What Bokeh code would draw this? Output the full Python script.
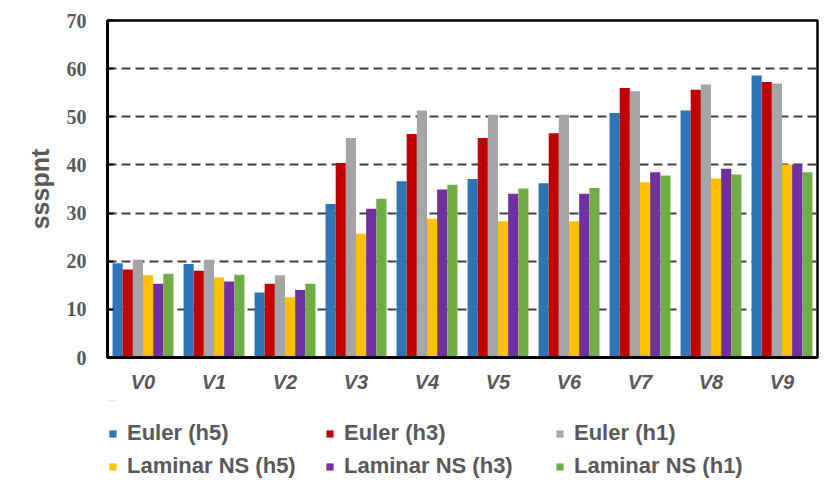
from bokeh.plotting import figure
from bokeh.models import ColumnDataSource, FactorRange, Range1d, FixedTicker, Legend, LegendItem
from bokeh.layouts import column
from bokeh.transform import dodge
from bokeh.embed import file_html
from bokeh.resources import INLINE

categories = ["V0", "V1", "V2", "V3", "V4", "V5", "V6", "V7", "V8", "V9"]
series_names = ["Euler (h5)", "Euler (h3)", "Euler (h1)",
                "Laminar NS (h5)", "Laminar NS (h3)", "Laminar NS (h1)"]
euler_h5 = [19.6, 19.4, 13.5, 31.9, 36.6, 37.1, 36.2, 50.8, 51.3, 58.6]
euler_h3 = [18.3, 18.0, 15.3, 40.4, 46.4, 45.6, 46.6, 56.0, 55.6, 57.2]
euler_h1 = [20.3, 20.3, 17.1, 45.6, 51.3, 50.4, 50.4, 55.3, 56.7, 56.9]
lam_h5 = [17.1, 16.6, 12.5, 25.7, 28.8, 28.3, 28.3, 36.4, 37.2, 40.1]
lam_h3 = [15.3, 15.8, 14.0, 30.9, 34.9, 34.0, 34.0, 38.5, 39.2, 40.1]
lam_h1 = [17.4, 17.2, 15.3, 33.0, 35.9, 35.1, 35.2, 37.8, 38.0, 38.5]
colors = ["#2E75B6", "#C00000", "#A5A5A5", "#FFC000", "#7030A0", "#70AD47"]
y_ticks = [0, 10, 20, 30, 40, 50, 60, 70]
y_label = "ssspnt"

series = [euler_h5, euler_h3, euler_h1, lam_h5, lam_h3, lam_h1]
keys = ["s0", "s1", "s2", "s3", "s4", "s5"]
data = {"cat": categories, "idx": list(range(len(categories)))}
for k, s in zip(keys, series):
    data[k] = s
src = ColumnDataSource(data)

W = 829
H1 = 400
H2 = 90
grey = "#595959"

p = figure(width=W, height=H1, x_range=FactorRange(*categories, range_padding=0),
           y_range=Range1d(0, 70), output_backend="svg", toolbar_location=None,
           min_border_left=107, min_border_right=12, min_border_top=20, min_border_bottom=43)

bw = 0.143
for i, (k, c) in enumerate(zip(keys, colors)):
    off = (i - 2.5) * bw
    p.vbar(x=dodge("cat", off, range=p.x_range), top=k, width=bw, source=src,
           fill_color=c, line_color=None)

p.outline_line_color = "black"
p.outline_line_width = 2.5

p.xgrid.grid_line_color = None
p.ygrid.grid_line_color = "#404040"
p.ygrid.grid_line_width = 2
p.ygrid.grid_line_dash = "9 5"
p.ygrid.level = "underlay"

p.yaxis.ticker = FixedTicker(ticks=y_ticks)
p.yaxis.axis_line_color = "black"
p.yaxis.axis_line_width = 3
p.yaxis.major_tick_in = 6
p.yaxis.major_tick_out = 0
p.yaxis.major_tick_line_color = "black"
p.yaxis.major_tick_line_width = 2
p.yaxis.minor_tick_line_color = None
p.yaxis.major_label_text_font = "Liberation Serif"
p.yaxis.major_label_text_font_style = "bold"
p.yaxis.major_label_text_font_size = "20px"
p.yaxis.major_label_text_color = grey
p.yaxis.major_label_standoff = 21
p.yaxis.axis_label = y_label
p.yaxis.axis_label_text_font = "Liberation Sans"
p.yaxis.axis_label_text_font_style = "bold"
p.yaxis.axis_label_text_font_size = "25px"
p.yaxis.axis_label_text_color = grey
p.yaxis.axis_label_standoff = 10

p.xaxis.axis_line_color = "black"
p.xaxis.axis_line_width = 3
p.xaxis.major_tick_line_color = None
p.xaxis.minor_tick_line_color = None
p.xaxis.major_label_text_font = "Liberation Sans"
p.xaxis.major_label_text_font_style = "bold italic"
p.xaxis.major_label_text_font_size = "20px"
p.xaxis.major_label_text_color = grey
p.xaxis.major_label_standoff = 7

# legend panel (its frame is aligned with the chart frame by the column layout)
q = figure(width=W, height=H2, x_range=Range1d(0, 710), y_range=Range1d(-200, -110),
           output_backend="svg", toolbar_location=None,
           min_border_left=107, min_border_right=12, min_border_top=0, min_border_bottom=0)
q.axis.visible = False
q.grid.visible = False
q.outline_line_color = None

col_x = [1, 218, 448]
row_y = [44, 11]
for i, (name, k, c) in enumerate(zip(series_names, keys, colors)):
    # same data, outside the visible range of this panel: only the legend swatch shows
    r = q.vbar(x="idx", top=k, width=0.1, source=src, fill_color=c, line_color=None)
    leg = Legend(items=[LegendItem(label=name, renderers=[r])],
                 location=(col_x[i % 3], row_y[i // 3]),
                 orientation="horizontal",
                 padding=0, margin=0, border_line_color=None,
                 background_fill_alpha=0, glyph_width=9, glyph_height=9,
                 label_standoff=10, label_height=22,
                 label_text_font="Liberation Sans", label_text_font_style="bold",
                 label_text_font_size="22px", label_text_color=grey)
    q.add_layout(leg, "center")

layout = column(p, q, spacing=0)
open("out.html", "w").write(file_html(layout, INLINE))
